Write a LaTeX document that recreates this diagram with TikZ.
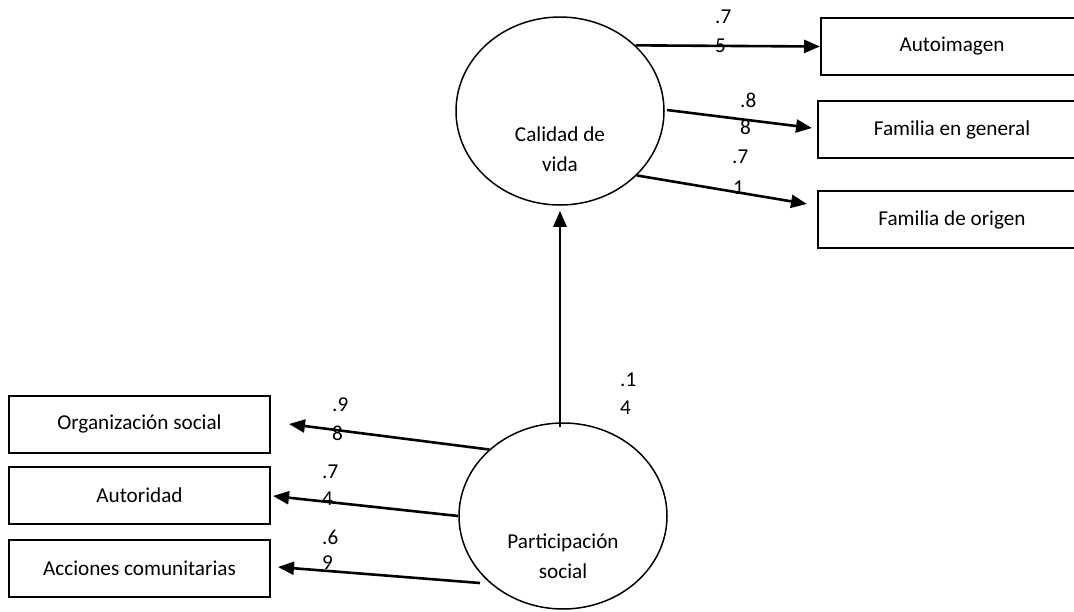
\documentclass[tikz,border=0pt]{standalone}
\usepackage{fontspec}
\setmainfont{Carlito}
\usetikzlibrary{shapes.geometric,arrows.meta,calc}
\begin{document}
\begin{tikzpicture}[x=1pt,y=-1pt,
  every node/.style={font=\fontsize{21.2}{30}\selectfont},
  latent/.style={draw,ellipse,line width=1.5pt,inner sep=0pt},
  obsbox/.style={draw,rectangle,line width=2pt,inner sep=0pt,minimum height=57pt},
  coef/.style={anchor=west,inner sep=0pt},
  path/.style={line width=2.6pt,-{Triangle[length=16pt,width=13pt]}}
]
\useasboundingbox (0,0) rectangle (1074,611);
\clip (0,0) rectangle (1074,611);
\fill[white] (0,0) rectangle (1074,611);

% latent variables
\node[latent,minimum width=208pt,minimum height=188pt] (cv) at (560,111) {};
\node[align=center,inner sep=0pt] (cvt) at (560,149) {Calidad de\\vida};
\node[latent,minimum width=208pt,minimum height=186pt] (ps) at (563,516) {};
\node[align=center,inner sep=0pt] (pst) at (563,556) {Participación\\social};

% observed boxes (right)
\node[obsbox,minimum width=262pt] (ai) at (952,46.5) {Autoimagen};
\node[obsbox,minimum width=268pt] (fg) at (952,129.5) {Familia en general};
\node[obsbox,minimum width=268pt] (fo) at (952,219.5) {Familia de origen};

% observed boxes (left)
\node[obsbox,minimum width=261pt] (os) at (139.5,424) {Organización social};
\node[obsbox,minimum width=261pt] (au) at (139.5,495.5) {Autoridad};
\node[obsbox,minimum width=261pt] (ac) at (139.5,568) {Acciones comunitarias};

% paths
\draw[path] (cv.41.7) -- (ai.west);
\draw[path] ($(cv.center)+(107,-1)$) -- ($(fg.west)+(-5,-1.5)$);
\draw[path] (cv.-40.2) -- ($(fo.west)+(-10,-15.5)$);
\draw[path] ($(ps.north)+(-3,5)$) -- ($(cv.south)+(0,5)$);
\draw[path] (ps.138.3) -- ($(os.east)+(18,0)$);
\draw[path] (ps.west) -- ($(au.east)+(2,0.5)$);
\draw[path] ($(ps.center)+(-83,67)$) -- ($(ac.east)+(7,-1)$);

% coefficients
\node[coef] (c1a) at (715,17) {.7};
\node[coef] (c1b) at (715,46) {5};
\node[coef] (c2a) at (740,100) {.8};
\node[coef] (c2b) at (740,127) {8};
\node[coef] (c3a) at (732,157) {.7};
\node[coef] (c3b) at (733,188) {1};
\node[coef] (c4a) at (620,380) {.1};
\node[coef] (c4b) at (620,408) {4};
\node[coef] (c5a) at (332,405) {.9};
\node[coef] (c5b) at (332,433) {8};
\node[coef] (c6a) at (322,472) {.7};
\node[coef] (c6b) at (322,499) {4};
\node[coef] (c7a) at (322,537) {.6};
\node[coef] (c7b) at (322,563) {9};
\end{tikzpicture}
\end{document}
